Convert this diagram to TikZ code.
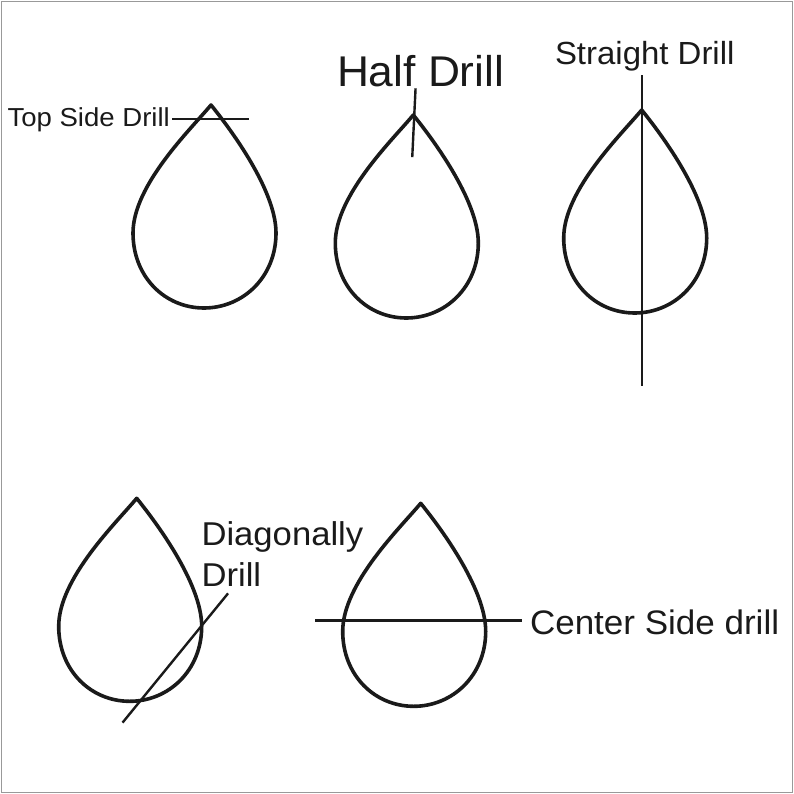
\documentclass[tikz,border=0pt]{standalone}
\usepackage{fontspec}
\setmainfont{Liberation Sans}
\begin{document}
\begin{tikzpicture}[x=1pt,y=-1pt,line cap=rect]
\definecolor{custcol_1a_1a_1a}{RGB}{26, 26, 26}
\definecolor{custcol_99_99_99}{RGB}{153, 153, 153}
\def\teardrop#1#2{\draw [line width=3.6pt, custcol_1a_1a_1a, line join=round, shift={(#1,#2)}] (0,0) .. controls (-20,24) and (-78,80) .. (-78,128) .. controls (-78,172) and (-46,203) .. (-7,203) .. controls (32,203) and (65,172) .. (65,128) .. controls (65,84) and (17,21) .. (0,0) -- cycle ;}
\tikzset{drill/.style={line width=2.4pt, custcol_1a_1a_1a}, lbl/.style={inner sep=0, outer sep=0, custcol_1a_1a_1a, anchor=base west}}
\useasboundingbox (0,0) rectangle (794,794);
\draw [line width=1.5pt, custcol_99_99_99] (1.5,1.5) rectangle (792.5,792.5);
% the five drops, placed by their tip
\teardrop{211.0}{105.0}
\teardrop{413.3}{115.0}
\teardrop{641.7}{110.0}
\teardrop{136.7}{498.3}
\teardrop{420.7}{503.3}
% top side drill
\node[lbl, xscale=1.06, font=\fontsize{26pt}{26pt}\selectfont] (topside) at (7.5,126.7) {Top Side Drill};
\coordinate (topsideEnd) at (248.0,119.0);
\draw [drill] ([xshift=3pt]topside.east |- topsideEnd) -- (topsideEnd);
% half drill
\node[lbl, xscale=1.03, font=\fontsize{43pt}{43pt}\selectfont] (half) at (337.0,86.7) {Half Drill};
\coordinate (halfTop) at (415.5,89.5);
\coordinate (halfEnd) at (412.3,156.0);
\draw [drill] (halfTop) -- (halfEnd);
% straight drill
\node[lbl, xscale=1.03, font=\fontsize{32pt}{32pt}\selectfont] (straight) at (555.0,64.3) {Straight Drill};
\coordinate (straightTop) at (642.0,76.0);
\coordinate (straightEnd) at (642.0,385.0);
\draw [drill] (straightTop) -- (straightEnd);
% diagonally drill
\node[lbl, xscale=1.05, font=\fontsize{33pt}{33pt}\selectfont] (diag) at (201.5,545.7) {Diagonally};
\node[lbl, xscale=1.05, font=\fontsize{33pt}{33pt}\selectfont] (diagB) at (201.5,586.0) {Drill};
\coordinate (diagTop) at (227.3,594.3);
\coordinate (diagEnd) at (123.3,721.7);
\draw [drill] (diagTop) -- (diagEnd);
% center side drill
\node[lbl, xscale=1.03, font=\fontsize{34pt}{34pt}\selectfont] (center) at (530.0,634.0) {Center Side drill};
\coordinate (centerStart) at (316.0,620.3);
\draw [drill] (centerStart) -- ([xshift=-9pt]center.west |- centerStart);
\end{tikzpicture}
\end{document}
